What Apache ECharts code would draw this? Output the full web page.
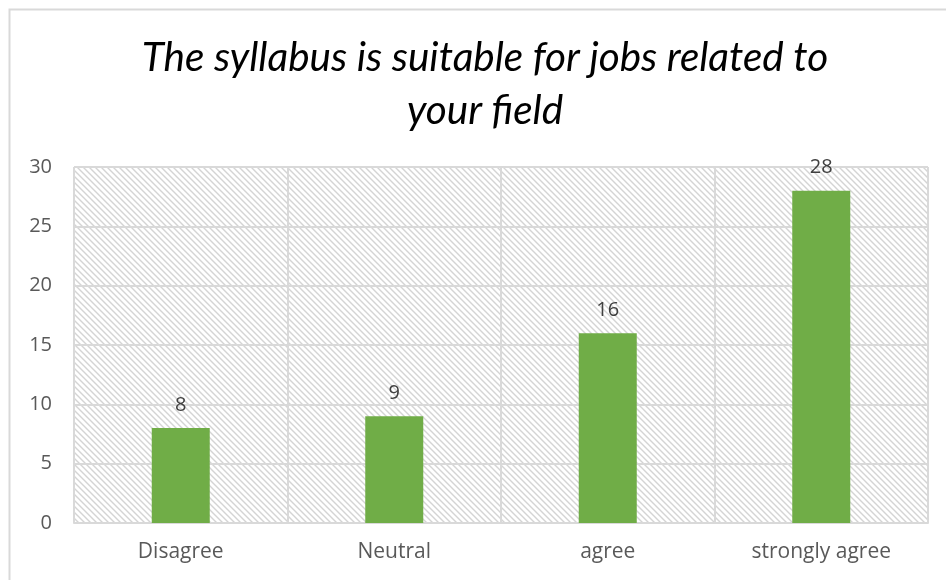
<!DOCTYPE html>
<html>
<head>
<meta charset="utf-8">
<script src="https://cdn.jsdelivr.net/npm/echarts@6/dist/echarts.min.js"></script>
<style>
  html, body { margin: 0; padding: 0; background: #fff; }
  #chart { width: 946px; height: 580px; }
</style>
</head>
<body>
<div id="chart"></div>
<script>
const categories = ['Disagree', 'Neutral', 'agree', 'strongly agree'];
const counts = [8, 9, 16, 28];
const titleText = 'The syllabus is suitable for jobs related to\nyour field';

// light diagonal hatch for the plot background
function hatch() {
    const c = document.createElement('canvas');
    c.width = 6; c.height = 6;
    const ctx = c.getContext('2d');
    ctx.fillStyle = '#fff';
    ctx.fillRect(0, 0, 6, 6);
    ctx.strokeStyle = '#d4d4d4';
    ctx.lineWidth = 1.4;
    ctx.beginPath();
    ctx.moveTo(-1, -1); ctx.lineTo(7, 7);
    ctx.moveTo(-4, 2); ctx.lineTo(4, 10);
    ctx.moveTo(2, -4); ctx.lineTo(10, 4);
    ctx.stroke();
    return c;
}

const myChart = echarts.init(document.getElementById('chart'));

const option = {
    animation: false,
    title: {
        text: titleText,
        left: 480,
        top: 26,
        textAlign: 'center',
        textStyle: {
            fontFamily: 'Lato',
            fontStyle: 'italic',
            fontWeight: 'normal',
            fontSize: 40.5,
            lineHeight: 53,
            color: '#000'
        }
    },
    graphic: [{
        type: 'rect',
        shape: { x: 9.5, y: 9.5, width: 1000, height: 1000 },
        style: { fill: 'none', stroke: '#d9d9d9', lineWidth: 2 },
        silent: true
    }],
    grid: {
        left: 74, right: 18, top: 167, bottom: 57,
        show: true,
        borderWidth: 0,
        backgroundColor: { image: hatch(), repeat: 'repeat' }
    },
    xAxis: {
        type: 'category',
        data: categories,
        axisLine: { lineStyle: { color: '#d9d9d9', width: 2 } },
        axisTick: { show: false },
        axisLabel: { color: '#595959', fontSize: 21, fontFamily: 'Open Sans', margin: 19 },
        splitLine: { show: true, lineStyle: { color: '#d9d9d9', width: 2 } }
    },
    yAxis: {
        type: 'value',
        min: 0, max: 30, interval: 5,
        axisLine: { show: false },
        axisTick: { show: false },
        axisLabel: { color: '#595959', fontSize: 20, fontFamily: 'Open Sans', margin: 22 },
        splitLine: { lineStyle: { color: '#d9d9d9', width: 2 } }
    },
    series: [{
        type: 'bar',
        data: counts,
        barWidth: 58,
        itemStyle: { color: '#70ad47' },
        label: {
            show: true,
            position: 'top',
            distance: 13,
            color: '#404040',
            fontSize: 20,
            fontFamily: 'Open Sans'
        }
    }]
};

myChart.setOption(option);
</script>
</body>
</html>
